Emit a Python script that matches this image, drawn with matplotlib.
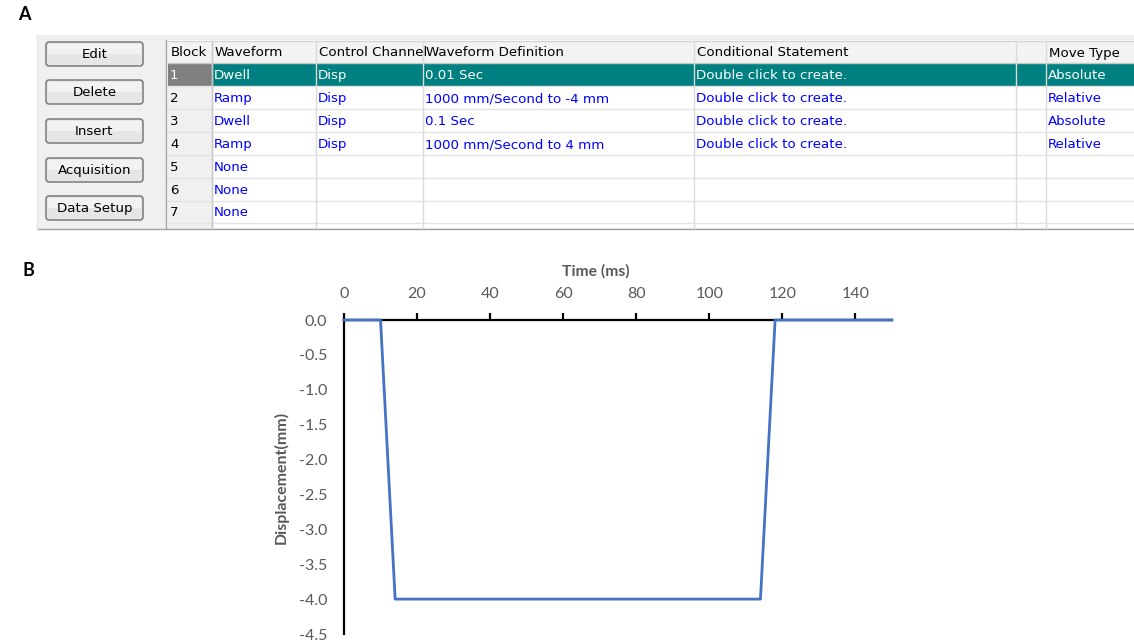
import matplotlib
matplotlib.use('Agg')
import matplotlib.pyplot as plt
from matplotlib.patches import Rectangle, FancyBboxPatch

# panel A: test program table
buttons = ['Edit', 'Delete', 'Insert', 'Acquisition', 'Data Setup']
headers = ['Block', 'Waveform', 'Control Channel', 'Waveform Definition',
           'Conditional Statement', '', 'Move Type']
block_ids = ['1', '2', '3', '4', '5', '6', '7']
waveforms = ['Dwell', 'Ramp', 'Dwell', 'Ramp', 'None', 'None', 'None']
channels = ['Disp', 'Disp', 'Disp', 'Disp', '', '', '']
definitions = ['0.01 Sec', '1000 mm/Second to -4 mm', '0.1 Sec',
               '1000 mm/Second to 4 mm', '', '', '']
conditions = ['Double click to create.'] * 4 + ['', '', '']
blanks = [''] * 7
move_types = ['Absolute', 'Relative', 'Absolute', 'Relative', '', '', '']

# panel B: displacement waveform
time_ms = [0, 10, 14, 114, 118, 150]
disp_mm = [0, 0, -4, -4, 0, 0]

W, H = 1134, 643
fig = plt.figure(figsize=(W / 100, H / 100), dpi=100)

# overlay in pixel coordinates for the screenshot part
ui = fig.add_axes([0, 0, 1, 1])
ui.set_xlim(0, W)
ui.set_ylim(H, 0)
ui.axis('off')

uifont = 'DejaVu Sans'
fs = 9.6

# window background
ui.add_patch(Rectangle((37, 35), W - 37, 194, facecolor='#f0f0f0', edgecolor='none'))
ui.plot([37, W], [229, 229], color='#a0a0a0', lw=1)
ui.plot([37, 37], [35, 229], color='#e6e6e6', lw=1)

# buttons
btn_top = [41, 79, 118, 157, 195]
for name, y0 in zip(buttons, btn_top):
    ui.add_patch(FancyBboxPatch((46, y0 + 1), 97, 24, boxstyle='round,pad=0,rounding_size=3',
                                facecolor='#e6e6e6', edgecolor='#707070', lw=1))
    ui.add_patch(Rectangle((48, y0 + 3), 93, 10, facecolor='#f2f2f2', edgecolor='none'))
    ui.text(94.5, y0 + 13.5, name, ha='center', va='center', fontsize=fs,
            family=uifont, color='black')

# grid
col_x = [168, 212, 316, 423, 694, 1016, 1046, W]
row_y = [41, 63, 86, 109, 132, 155, 178, 201, 223]
ui.add_patch(Rectangle((166, 40), W - 166, 188, facecolor='white', edgecolor='none'))
ui.plot([166, 166], [40, 228], color='#a0a0a0', lw=1)

# header row
ui.add_patch(Rectangle((168, row_y[0]), W - 168, row_y[1] - row_y[0],
                       facecolor='#f3f3f3', edgecolor='none'))
ui.plot([168, W], [row_y[0], row_y[0]], color='#d5d5d5', lw=1)
ui.plot([168, W], [row_y[1], row_y[1]], color='#c8c8c8', lw=1)

# block column background
ui.add_patch(Rectangle((168, row_y[1]), col_x[1] - 168, row_y[-1] - row_y[1] + 5,
                       facecolor='#f0f0f0', edgecolor='none'))
ui.add_patch(Rectangle((168, row_y[1]), col_x[1] - 168, row_y[2] - row_y[1],
                       facecolor='#808080', edgecolor='none'))
# selected row
ui.add_patch(Rectangle((col_x[1], row_y[1]), W - col_x[1], row_y[2] - row_y[1],
                       facecolor='#008080', edgecolor='none'))

# grid lines
for y in row_y[2:]:
    ui.plot([168, W], [y, y], color='#e3e3e3', lw=1)
for x in col_x[1:-1]:
    ui.plot([x, x], [row_y[0], 228], color='#dadada', lw=1)
ui.plot([col_x[1], col_x[1]], [row_y[0], 228], color='#c8c8c8', lw=1)

# header text (clipped to its cell)
for i, h in enumerate(headers):
    x0, x1 = col_x[i], col_x[i + 1]
    cell = Rectangle((x0, row_y[0]), x1 - x0 - 1, row_y[1] - row_y[0],
                     transform=ui.transData, facecolor='none', edgecolor='none')
    ui.add_patch(cell)
    t = ui.text(x0 + 3, (row_y[0] + row_y[1]) / 2 + 1, h, ha='left', va='center',
                fontsize=fs, family=uifont, color='black')
    t.set_clip_path(cell)

# body text
columns = [block_ids, waveforms, channels, definitions, conditions, blanks, move_types]
for r in range(len(block_ids)):
    yc = (row_y[r + 1] + row_y[r + 2]) / 2 + 1
    for c, col in enumerate(columns):
        val = col[r]
        if not val:
            continue
        if c == 0:
            color = 'white' if r == 0 else 'black'
        else:
            color = 'white' if r == 0 else '#0000ff'
        ui.text(col_x[c] + 2, yc, val, ha='left', va='center', fontsize=fs,
                family=uifont, color=color)

# panel letters
fig.text(18 / W, 1 - 15 / H, 'A', fontsize=13, fontweight='bold', family='Lato',
         ha='left', va='center')
fig.text(22 / W, 1 - 270 / H, 'B', fontsize=13, fontweight='bold', family='Lato',
         ha='left', va='center')

# panel B chart
ax = fig.add_axes([344 / W, 1 - 634 / H, 548 / W, 314 / H])
ax.patch.set_alpha(0)
ax.plot(time_ms, disp_mm, color='#4472C4', lw=2, zorder=3, clip_on=False)
ax.set_xlim(0, 150)
ax.set_ylim(-4.5, 0)
ax.set_xticks(range(0, 141, 20))
ax.set_yticks([-4.5, -4.0, -3.5, -3.0, -2.5, -2.0, -1.5, -1.0, -0.5, 0.0])
ax.set_yticklabels(['%.1f' % v for v in ax.get_yticks()])
ax.xaxis.tick_top()
for s in ['right', 'bottom']:
    ax.spines[s].set_visible(False)
for s in ['top', 'left']:
    ax.spines[s].set_linewidth(1.6)
    ax.spines[s].set_color('black')
ax.tick_params(axis='x', direction='out', length=5, width=1.6, color='black',
               pad=9, labelsize=11.5, labelcolor='#595959')
ax.tick_params(axis='y', length=0, pad=12, labelsize=11.5, labelcolor='#595959')
for lab in ax.get_xticklabels() + ax.get_yticklabels():
    lab.set_family('Lato')

fig.text(596 / W, 1 - 271 / H, 'Time (ms)', fontsize=11.3, fontweight='bold',
         family='Lato', color='#595959', ha='center', va='center')
fig.text(281 / W, 1 - 477 / H, 'Displacement(mm)', fontsize=11.5, fontweight='bold',
         family='Lato', color='#595959', ha='center', va='center', rotation=90)

fig.savefig('out.png', dpi=100)
